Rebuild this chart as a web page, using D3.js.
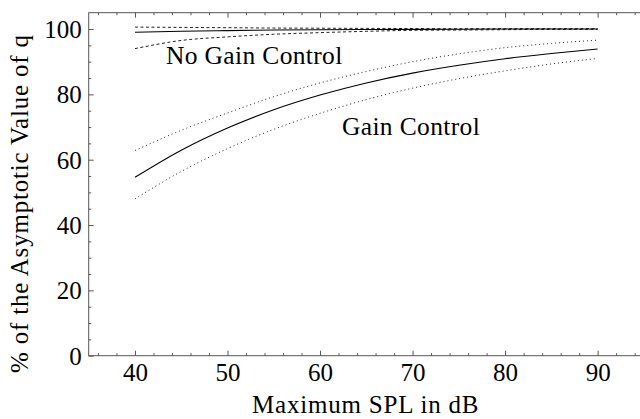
<!DOCTYPE html>
<html>
<head>
<meta charset="utf-8">
<script src="https://cdn.jsdelivr.net/npm/d3@7/dist/d3.min.js"></script>
<style>
  html, body { margin: 0; padding: 0; background: #fff; }
  svg { display: block; }
  text { fill: #000; }
</style>
</head>
<body>
<svg id="chart" width="640" height="419"></svg>
<script>
// Maximum SPL (dB) at which each curve is sampled
const spl = [40, 45, 50, 55, 60, 65, 70, 75, 80, 85, 90];

// With gain control: estimate and its lower / upper bounds (% of asymptotic q)
const gainMean  = [54.6, 62.9, 69.7, 75.3, 79.8, 83.5, 86.5, 88.9, 90.9, 92.5, 93.9];
const gainUpper = [62.8, 69.0, 74.3, 79.3, 83.5, 87.0, 90.0, 92.4, 94.3, 95.6, 96.6];
const gainLower = [48.0, 56.4, 63.4, 69.3, 74.2, 78.4, 81.9, 84.8, 87.2, 89.3, 91.0];

// Without gain control
const noGainMean  = [99.0, 99.3, 99.5, 99.7, 99.8, 99.85, 99.9, 99.95, 100.0, 100.0, 100.0];
const noGainUpper = [100.6, 100.5, 100.4, 100.3, 100.25, 100.2, 100.15, 100.1, 100.1, 100.1, 100.1];
const noGainLower = [94.0, 96.5, 97.6, 98.4, 98.9, 99.3, 99.6, 99.7, 99.8, 99.9, 99.9];

// Axis ticks
const xMajor = [40, 50, 60, 70, 80, 90];
const xMinor = d3.range(36, 95, 2).filter(v => v % 10 !== 0);
const yMajor = [0, 20, 40, 60, 80, 100];
const yMinor = d3.range(5, 105, 5).filter(v => v % 20 !== 0);

const xTitle = "Maximum SPL in dB";
const yTitle = "% of the Asymptotic Value of q";
const labelNoGain = "No Gain Control";
const labelGain = "Gain Control";

const serif = "'Liberation Serif', 'Tinos', 'Nimbus Roman', 'Times New Roman', Times, 'DejaVu Serif', serif";

const svg = d3.select("#chart");
const plotLeft = 88.7, plotRight = 643.9, plotTop = 12.7, plotBottom = 355.7;

const x = d3.scaleLinear().domain([35, 95]).range([plotLeft, plotRight]);
const y = d3.scaleLinear().domain([0, 105]).range([plotBottom, plotTop]);

const axisColor = "#555";
const fontSize = 25;

// Frame
svg.append("rect")
  .attr("x", plotLeft).attr("y", plotTop)
  .attr("width", plotRight - plotLeft).attr("height", plotBottom - plotTop)
  .attr("fill", "none").attr("stroke", axisColor).attr("stroke-width", 1);

function styleAxis(g) {
  g.select(".domain").remove();
  g.attr("font-family", null).attr("font-size", null);
  g.selectAll(".tick line").attr("stroke", axisColor).attr("stroke-width", 1);
}

// Bottom axis: major ticks with labels, minor ticks without
const gxMinor = svg.append("g").attr("transform", `translate(0,${plotBottom})`)
  .call(d3.axisBottom(x).tickValues(xMinor).tickSize(-2.5).tickFormat(""));
styleAxis(gxMinor);
const gx = svg.append("g").attr("transform", `translate(0,${plotBottom})`)
  .call(d3.axisBottom(x).tickValues(xMajor).tickSize(-5).tickFormat(d3.format("d")));
styleAxis(gx);
gx.selectAll(".tick text")
  .attr("dy", null).attr("y", 25.5)
  .style("font-size", fontSize + "px")
  .style("font-family", serif)
  .attr("fill", "#000");

// Top axis: ticks only
const gtMinor = svg.append("g").attr("transform", `translate(0,${plotTop})`)
  .call(d3.axisTop(x).tickValues(xMinor).tickSize(-2.5).tickFormat(""));
styleAxis(gtMinor);
const gt = svg.append("g").attr("transform", `translate(0,${plotTop})`)
  .call(d3.axisTop(x).tickValues(xMajor).tickSize(-5).tickFormat(""));
styleAxis(gt);

// Left axis
const gyMinor = svg.append("g").attr("transform", `translate(${plotLeft},0)`)
  .call(d3.axisLeft(y).tickValues(yMinor).tickSize(-2.5).tickFormat(""));
styleAxis(gyMinor);
const gy = svg.append("g").attr("transform", `translate(${plotLeft},0)`)
  .call(d3.axisLeft(y).tickValues(yMajor).tickSize(-5).tickPadding(7).tickFormat(d3.format("d")));
styleAxis(gy);
gy.selectAll(".tick text")
  .attr("dy", "0.34em")
  .style("font-size", fontSize + "px")
  .style("font-family", serif)
  .attr("fill", "#000");

// Curves
const line = d3.line()
  .x(d => x(d[0]))
  .y(d => y(d[1]))
  .curve(d3.curveMonotoneX);

function drawSeries(values, opts) {
  svg.append("path")
    .datum(spl.map((s, i) => [s, values[i]]))
    .attr("d", line)
    .attr("fill", "none")
    .attr("stroke", opts.color || "#000")
    .attr("stroke-width", opts.width || 1)
    .attr("stroke-dasharray", opts.dash || null);
}

drawSeries(gainUpper, { dash: "1,3", color: "#222", width: 1 });
drawSeries(gainLower, { dash: "1,3", color: "#222", width: 1 });
drawSeries(gainMean, { width: 1.1 });

drawSeries(noGainUpper, { dash: "3,2.5", color: "#222", width: 1 });
drawSeries(noGainLower, { dash: "3,2.5", color: "#222", width: 1 });
drawSeries(noGainMean, { width: 1.1 });

// Curve labels
svg.append("text")
  .attr("x", 166).attr("y", 63.5)
  .style("font-family", serif)
  .style("font-size", "25.5px")
  .style("letter-spacing", "0.35px")
  .text(labelNoGain);
svg.append("text")
  .attr("x", 342).attr("y", 135)
  .style("font-family", serif)
  .style("font-size", "25.5px")
  .style("letter-spacing", "0.35px")
  .text(labelGain);

// Axis titles
svg.append("text")
  .attr("x", 252).attr("y", 413)
  .style("font-family", serif)
  .style("font-size", fontSize + "px")
  .style("letter-spacing", "0.8px")
  .text(xTitle);

svg.append("text")
  .attr("transform", `translate(28,373) rotate(-90)`)
  .style("font-family", serif)
  .style("font-size", fontSize + "px")
  .style("letter-spacing", "0.8px")
  .text(yTitle);
</script>
</body>
</html>
